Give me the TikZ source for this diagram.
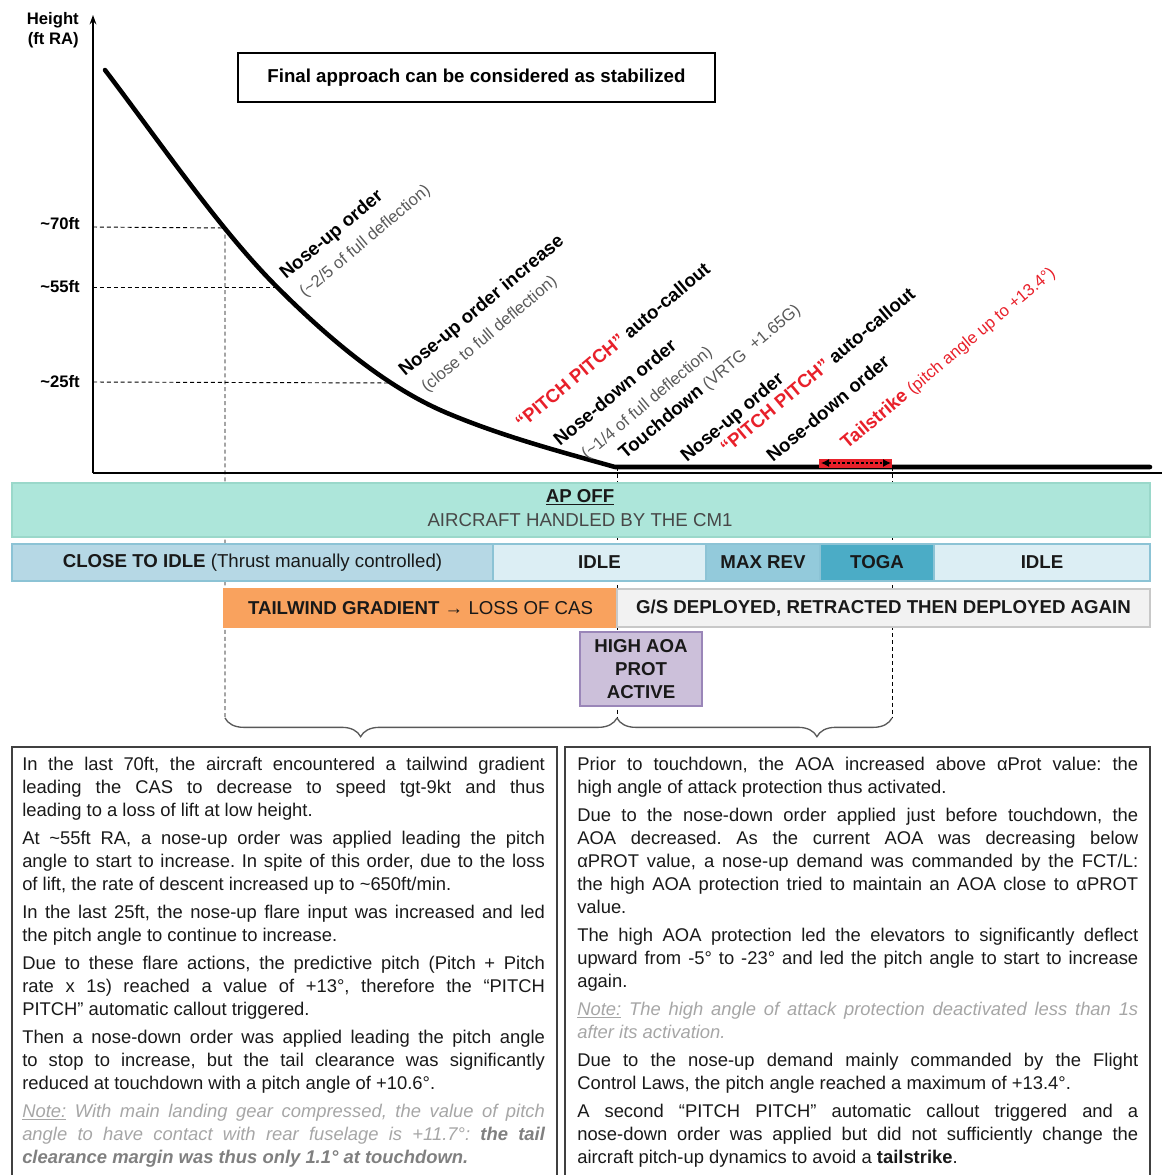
\documentclass[tikz,border=0pt]{standalone}
\usepackage{fontspec}
\setmainfont{Liberation Sans}
\usepackage{xcolor}
\usepackage{tikz}
\usetikzlibrary{arrows.meta,decorations.pathreplacing,positioning}
\frenchspacing

\definecolor{apgreen}{HTML}{ADE6DA}
\definecolor{apline}{HTML}{9AD8CA}
\definecolor{thrA}{HTML}{B6D8E5}
\definecolor{thrB}{HTML}{DCEEF4}
\definecolor{thrC}{HTML}{93CADB}
\definecolor{thrD}{HTML}{4BACC6}
\definecolor{thrline}{HTML}{8CC3D5}
\definecolor{windorange}{HTML}{F9A25E}
\definecolor{gsgray}{HTML}{F2F2F2}
\definecolor{gsline}{HTML}{C8C8C8}
\definecolor{aoafill}{HTML}{CCC0DA}
\definecolor{aoaline}{HTML}{9A86B8}
\definecolor{callred}{HTML}{E8202A}
\definecolor{subgray}{HTML}{595959}
\definecolor{notegray}{HTML}{A6A6A6}
\definecolor{notebold}{HTML}{808080}

\begin{document}
\begin{tikzpicture}[
    x=0.75pt, y=-0.75pt,
    curve/.style={line width=3.4pt, line cap=round, line join=round},
    guide/.style={dashed, dash pattern=on 3pt off 2.2pt, line width=0.7pt},
    lbl/.style={rotate=40, anchor=base west, inner sep=0pt, font=\fontsize{14}{16}\selectfont\bfseries},
    sublbl/.style={rotate=40, anchor=base west, inner sep=0pt, text=subgray, font=\fontsize{12.5}{14}\selectfont},
    tick/.style={anchor=east, inner sep=0pt, font=\fontsize{12.5}{14}\selectfont\bfseries},
    band/.style={line width=1pt},
    bandtxt/.style={font=\fontsize{14}{16}\selectfont, text=black!90},
    brace/.style={draw=subgray, line width=1pt, decorate, decoration={brace, mirror, amplitude=14pt, aspect=#1}},
    txtbox/.style={draw=black!75, line width=1.1pt},
    para/.style={anchor=north west, inner sep=0pt, align=justify, text=black!90, font=\fontsize{13.8}{17.25}\selectfont}
]
\useasboundingbox (0,0) rectangle (1162,1175);

\coordinate (origin) at (93,473);
\coordinate (ytop) at (93,15);
\coordinate (xend) at (1162,473);
\coordinate (y70) at (93,227);
\coordinate (y55) at (93,287);
\coordinate (y25) at (93,382);
\coordinate (start) at (105,70);
\coordinate (p70) at (225,228);
\coordinate (p55) at (277,287);
\coordinate (p25) at (393,383);
\coordinate (bend) at (447,413);
\coordinate (td) at (615,467);
\coordinate (gend) at (1150,467);
\coordinate (ts) at (892,467);
\coordinate (b70) at (225,718);
\coordinate (btd) at (617,718);
\coordinate (bts) at (892,718);
\coordinate (tsl) at (821,463);
\coordinate (tsr) at (891,463);

\draw[guide] (y70) -- (p70) -- (b70);
\draw[guide] (y55) -- (p55);
\draw[guide] (y25) -- (p25);
\draw[guide] (617,467) -- (btd);
\draw[guide] (ts) -- (bts);

\draw[line width=1.5pt, -{Stealth[length=7pt,width=5pt]}] (origin) -- (ytop);
\draw[line width=1.5pt] (origin) -- (xend);

\draw[curve] (start) .. controls (162,145) and (220,230) .. (p55)
    .. controls (334,344) and (390,389) .. (bend)
    .. controls (503,436.5) and (559,451.3) .. (td) -- (gend);

\fill[callred] (819,459) rectangle (892,467.5);
\draw[{Latex[length=6pt,width=6pt]}-{Latex[length=6pt,width=6pt]}, dash pattern=on 2pt off 1.5pt, line width=0.9pt] (tsl) -- (tsr);

\node[font=\fontsize{12.5}{15}\selectfont\bfseries, align=right, anchor=north east, inner sep=0pt] (yname) at (79,12) {Height\\(ft RA)};
\node[tick] (t70) at (80,224) {\textasciitilde70ft};
\node[tick] (t55) at (80,287) {\textasciitilde55ft};
\node[tick] (t25) at (80,382) {\textasciitilde25ft};

\node[draw, line width=1.1pt, minimum width=357.75pt, minimum height=36.75pt, font=\fontsize{14}{16}\selectfont\bfseries] (stab) at (476.5,77.5) {Final approach can be considered as stabilized};

\node[lbl] (noseup1) at (286,280) {Nose-up order};
\node[sublbl] (noseup1d) at (305,298) {(\textasciitilde2/5 of full deflection)};
\node[lbl] (noseup2) at (405,377) {Nose-up order increase};
\node[sublbl] (noseup2d) at (427,393) {(close to full deflection)};
\node[lbl] (pitch1) at (522,430) {\textcolor{callred}{“PITCH PITCH”} auto-callout};
\node[lbl] (nosedn1) at (560,447) {Nose-down order};
\node[sublbl] (nosedn1d) at (587,460) {(\textasciitilde1/4 of full deflection)};
\node[lbl] (touch) at (625,460) {Touchdown {\mdseries\fontsize{12.5}{14}\selectfont\color{subgray}(VRTG~~+1.65G)}};
\node[lbl] (noseup3) at (687,463) {Nose-up order};
\node[lbl] (pitch2) at (727,455) {\textcolor{callred}{“PITCH PITCH”} auto-callout};
\node[lbl] (nosedn2) at (773,463) {Nose-down order};
\node[lbl, text=callred] (tail) at (847,450) {Tailstrike {\mdseries\fontsize{12.5}{14}\selectfont(pitch angle up to +13.4°)}};

\draw[band, draw=apline, fill=apgreen] (12,483) rectangle (1150,537);
\node[bandtxt] (apoff) at (580,497) {\bfseries\underline{AP OFF}};
\node[bandtxt, text=black!72] (handled) at (580,520) {AIRCRAFT HANDLED BY THE CM1};

\draw[band, draw=thrline, fill=thrA] (12,544) rectangle (493,581) node[midway, bandtxt] (closeidle) {\textbf{CLOSE TO IDLE} (Thrust manually controlled)};
\draw[band, draw=thrline, fill=thrB] (493,544) rectangle (706,581) node[midway, bandtxt] (idle1) {\textbf{IDLE}};
\draw[band, draw=thrline, fill=thrC] (706,544) rectangle (820,581) node[midway, bandtxt] (maxrev) {\textbf{MAX REV}};
\draw[band, draw=thrline, fill=thrD] (820,544) rectangle (934,581) node[midway, bandtxt] (toga) {\textbf{TOGA}};
\draw[band, draw=thrline, fill=thrB] (934,544) rectangle (1150,581) node[midway, bandtxt] (idle2) {\textbf{IDLE}};

\draw[band, draw=windorange, fill=windorange] (224,589) rectangle (617,627) node[midway, bandtxt] (wind) {\textbf{TAILWIND GRADIENT} → LOSS OF CAS};
\draw[band, draw=gsline, fill=gsgray] (617,589) rectangle (1150,627) node[midway, bandtxt] (gs) {\textbf{G/S DEPLOYED, RETRACTED THEN DEPLOYED AGAIN}};

\draw[band, draw=aoaline, fill=aoafill] (580,632) rectangle (702,706) node[midway, bandtxt, align=center, font=\fontsize{14}{17}\selectfont\bfseries] (aoa) {HIGH AOA\\PROT\\ACTIVE};

\draw[brace=0.346] (b70) -- (btd);
\draw[brace=0.727] (btd) -- (bts);

\draw[txtbox] (12,747) rectangle (557,1185);
\draw[txtbox] (565,747) rectangle (1150,1185);

\node[para, text width=392pt] (lefttxt) at (22,757) {\parskip=3.75pt\hyphenpenalty=10000
In the last 70ft, the aircraft encountered a tailwind gradient\linebreak
leading the CAS to decrease to speed tgt-9kt and thus\linebreak
leading to a loss of lift at low height.\par
At \textasciitilde55ft RA, a nose-up order was applied leading the pitch\linebreak
angle to start to increase. In spite of this order, due to the loss\linebreak
of lift, the rate of descent increased up to \textasciitilde650ft/min.\par
In the last 25ft, the nose-up flare input was increased and led\linebreak
the pitch angle to continue to increase.\par
Due to these flare actions, the predictive pitch (Pitch + Pitch\linebreak
rate x 1s) reached a value of +13°, therefore the “PITCH\linebreak
PITCH” automatic callout triggered.\par
Then a nose-down order was applied leading the pitch angle\linebreak
to stop to increase, but the tail clearance was significantly\linebreak
reduced at touchdown with a pitch angle of +10.6°.\par
{\color{notegray}\itshape\underline{Note:} With main landing gear compressed, the value of pitch\linebreak
angle to have contact with rear fuselage is +11.7°: {\color{notebold}\bfseries the tail\linebreak
clearance margin was thus only 1.1° at touchdown.}}\par};

\node[para, text width=420.75pt] (righttxt) at (577,757) {\parskip=3.75pt\hyphenpenalty=10000
Prior to touchdown, the AOA increased above αProt value: the\linebreak
high angle of attack protection thus activated.\par
Due to the nose-down order applied just before touchdown, the\linebreak
AOA decreased. As the current AOA was decreasing below\linebreak
αPROT value, a nose-up demand was commanded by the FCT/L:\linebreak
the high AOA protection tried to maintain an AOA close to αPROT\linebreak
value.\par
The high AOA protection led the elevators to significantly deflect\linebreak
upward from -5° to -23° and led the pitch angle to start to increase\linebreak
again.\par
{\color{notegray}\itshape\underline{Note:} The high angle of attack protection deactivated less than 1s\linebreak
after its activation.}\par
Due to the nose-up demand mainly commanded by the Flight\linebreak
Control Laws, the pitch angle reached a maximum of +13.4°.\par
A second “PITCH PITCH” automatic callout triggered and a\linebreak
nose-down order was applied but did not sufficiently change the\linebreak
aircraft pitch-up dynamics to avoid a \textbf{tailstrike}.\par};

\end{tikzpicture}
\end{document}
